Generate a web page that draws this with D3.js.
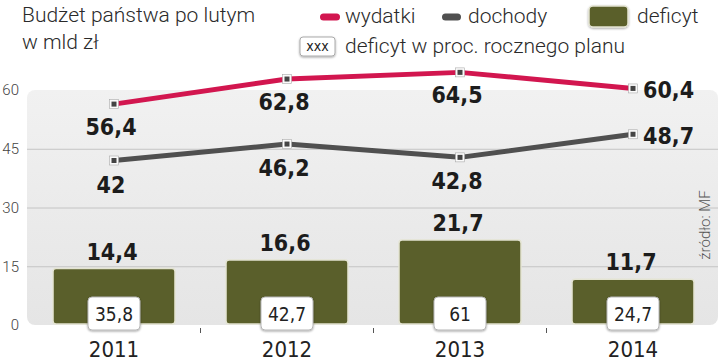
<!DOCTYPE html>
<html>
<head>
<meta charset="utf-8">
<script src="https://cdn.jsdelivr.net/npm/d3@7"></script>
<style>
  body { margin: 0; background: #fff; }
  svg { display: block; }
  .cond { font-family: "DejaVu Sans Condensed", "DejaVu Sans", sans-serif; font-stretch: condensed; }
  .light { font-family: Roboto, "Open Sans", sans-serif; font-weight: 300; }
</style>
</head>
<body>
<div id="chart"></div>
<script>
const years = ["2011", "2012", "2013", "2014"];
const wydatki = [56.4, 62.8, 64.5, 60.4];
const dochody = [42, 46.2, 42.8, 48.7];
const deficyt = [14.4, 16.6, 21.7, 11.7];
const planPct = [35.8, 42.7, 61, 24.7];
const yTicks = [0, 15, 30, 45, 60];

const width = 720;
const height = 362;
const fmt = d => String(d).replace(".", ",");

const svg = d3.select("#chart")
    .append("svg")
    .attr("width", width)
    .attr("height", height);

const defs = svg.append("defs");
const bgGrad = defs.append("linearGradient")
    .attr("id", "bg")
    .attr("x1", 0).attr("y1", 0).attr("x2", 0).attr("y2", 1);
bgGrad.append("stop").attr("offset", "0%").attr("stop-color", "#f1f1f1");
bgGrad.append("stop").attr("offset", "100%").attr("stop-color", "#e5e5e5");

const shadow = defs.append("filter").attr("id", "shadow")
    .attr("x", "-20%").attr("y", "-20%").attr("width", "140%").attr("height", "150%");
shadow.append("feDropShadow")
    .attr("dx", 0).attr("dy", 1).attr("stdDeviation", 1)
    .attr("flood-color", "#000").attr("flood-opacity", 0.35);

const x = d3.scaleBand()
    .domain(years)
    .range([27.5, 719.5])
    .paddingInner(0.295)
    .paddingOuter(0.1475);

const y = d3.scaleLinear()
    .domain([0, 60])
    .range([325, 90]);

const cx = d => x(d) + x.bandwidth() / 2;

// plot background
svg.append("rect")
    .attr("x", 27)
    .attr("y", y(60))
    .attr("width", 691)
    .attr("height", y(0) - y(60))
    .attr("rx", 8)
    .attr("fill", "url(#bg)");

// grid lines
svg.append("g")
    .selectAll("line")
    .data(yTicks.filter(t => t > 0 && t < 60))
    .enter()
    .append("line")
    .attr("x1", 27)
    .attr("x2", 718)
    .attr("y1", d => y(d) + 0.5)
    .attr("y2", d => y(d) + 0.5)
    .attr("stroke", "#c4c4c4")
    .attr("stroke-width", 1);

// y axis labels
svg.append("g")
    .selectAll("text")
    .data(yTicks)
    .enter()
    .append("text")
    .attr("class", "light")
    .attr("x", 19)
    .attr("y", d => y(d))
    .attr("dy", "0.36em")
    .attr("text-anchor", "end")
    .attr("font-size", 15)
    .attr("fill", "#444")
    .text(d => d);

// small ticks between years
svg.append("g")
    .selectAll("line")
    .data(years.slice(1))
    .enter()
    .append("line")
    .attr("x1", d => x(d) - x.step() * x.paddingInner() / 2)
    .attr("x2", d => x(d) - x.step() * x.paddingInner() / 2)
    .attr("y1", y(0) + 3)
    .attr("y2", y(0) + 8)
    .attr("stroke", "#555")
    .attr("stroke-width", 1);

// bars
svg.append("g")
    .selectAll("rect")
    .data(deficyt)
    .enter()
    .append("rect")
    .attr("x", (d, i) => x(years[i]))
    .attr("y", d => y(d))
    .attr("width", x.bandwidth())
    .attr("height", d => y(0) - y(d) - 1)
    .attr("rx", 3)
    .attr("fill", "#5a5f2b")
    .attr("stroke", "#e4e4d2")
    .attr("stroke-width", 1.5);

svg.append("g")
    .selectAll("text")
    .data(deficyt)
    .enter()
    .append("text")
    .attr("class", "cond")
    .attr("x", (d, i) => cx(years[i]) - 2)
    .attr("y", d => y(d) - 9)
    .attr("text-anchor", "middle")
    .attr("font-size", 23)
    .attr("font-weight", "bold")
    .attr("fill", "#1c1c1c")
    .text(fmt);

// plan percentage boxes
const boxes = svg.append("g")
    .selectAll("g")
    .data(planPct)
    .enter()
    .append("g")
    .attr("transform", (d, i) => `translate(${cx(years[i])},${y(0) - 28})`);

boxes.append("rect")
    .attr("x", -26)
    .attr("y", 0)
    .attr("width", 52)
    .attr("height", 33)
    .attr("rx", 4)
    .attr("fill", "#fff")
    .attr("stroke", "#b5b5b5")
    .attr("stroke-width", 1)
    .attr("filter", "url(#shadow)");

boxes.append("text")
    .attr("class", "cond")
    .attr("x", 0)
    .attr("y", 24)
    .attr("text-anchor", "middle")
    .attr("font-size", 19)
    .attr("fill", "#222")
    .text(fmt);

// lines
const line = d3.line()
    .x((d, i) => cx(years[i]))
    .y(d => y(d));

function drawSeries(values, color, labelBelow) {
    svg.append("path")
        .datum(values)
        .attr("d", line)
        .attr("fill", "none")
        .attr("stroke", color)
        .attr("stroke-width", 5)
        .attr("stroke-linejoin", "round");

    const m = svg.append("g")
        .selectAll("g")
        .data(values)
        .enter()
        .append("g")
        .attr("transform", (d, i) => `translate(${cx(years[i])},${y(d)})`);
    m.append("rect")
        .attr("x", -4.5).attr("y", -4.5)
        .attr("width", 9).attr("height", 9)
        .attr("fill", "#fafafa")
        .attr("stroke", "#aaa")
        .attr("stroke-width", 0.6);
    m.append("rect")
        .attr("x", -2.5).attr("y", -2.5)
        .attr("width", 5).attr("height", 5)
        .attr("fill", "#444");

    svg.append("g")
        .selectAll("text")
        .data(values)
        .enter()
        .append("text")
        .attr("class", "cond")
        .attr("x", (d, i) => i < values.length - 1 ? cx(years[i]) - 3 : cx(years[i]) + 10)
        .attr("y", (d, i) => i < values.length - 1 ? y(d) + labelBelow : y(d) + 10)
        .attr("text-anchor", (d, i) => i < values.length - 1 ? "middle" : "start")
        .attr("font-size", 23)
        .attr("font-weight", "bold")
        .attr("fill", "#1c1c1c")
        .text(fmt);
}

drawSeries(dochody, "#505050", 32);
drawSeries(wydatki, "#d2164f", 31);

// year labels
svg.append("g")
    .selectAll("text")
    .data(years)
    .enter()
    .append("text")
    .attr("class", "cond")
    .attr("x", d => cx(d))
    .attr("y", 357)
    .attr("text-anchor", "middle")
    .attr("font-size", 22)
    .attr("fill", "#222")
    .text(d => d);

// source
svg.append("text")
    .attr("class", "light")
    .attr("transform", "translate(710,225) rotate(-90)")
    .attr("text-anchor", "middle")
    .attr("font-size", 15)
    .attr("fill", "#555")
    .text("źródło: MF");

// title
const title = svg.append("text")
    .attr("class", "light")
    .attr("font-size", 21)
    .attr("fill", "#2a2a2a");
title.append("tspan").attr("x", 22).attr("y", 22).text("Budżet państwa po lutym");
title.append("tspan").attr("x", 22).attr("y", 49).text("w mld zł");

// legend
const legend = svg.append("g");
legend.append("rect")
    .attr("x", 320).attr("y", 13.5).attr("width", 20).attr("height", 7).attr("rx", 3.5)
    .attr("fill", "#d2164f");
legend.append("text").attr("class", "light").attr("x", 345).attr("y", 23)
    .attr("font-size", 21).attr("fill", "#2a2a2a").text("wydatki");
legend.append("rect")
    .attr("x", 442).attr("y", 13.5).attr("width", 19).attr("height", 7).attr("rx", 3.5)
    .attr("fill", "#505050");
legend.append("text").attr("class", "light").attr("x", 468).attr("y", 23)
    .attr("font-size", 21).attr("fill", "#2a2a2a").text("dochody");
legend.append("rect")
    .attr("x", 589).attr("y", 6).attr("width", 39).attr("height", 21).attr("rx", 4)
    .attr("fill", "#5a5f2b").attr("stroke", "#e4e4d2").attr("stroke-width", 1.5)
    .attr("filter", "url(#shadow)");
legend.append("text").attr("class", "light").attr("x", 637).attr("y", 23)
    .attr("font-size", 21).attr("fill", "#2a2a2a").text("deficyt");
legend.append("rect")
    .attr("x", 300).attr("y", 37).attr("width", 35).attr("height", 19).attr("rx", 3)
    .attr("fill", "#fff").attr("stroke", "#aaa").attr("stroke-width", 1)
    .attr("filter", "url(#shadow)");
legend.append("text").attr("class", "cond").attr("x", 317.5).attr("y", 51)
    .attr("text-anchor", "middle").attr("font-size", 14).attr("fill", "#222").text("xxx");
legend.append("text").attr("class", "light").attr("x", 345).attr("y", 53)
    .attr("font-size", 21).attr("fill", "#2a2a2a").text("deficyt w proc. rocznego planu");
</script>
</body>
</html>
